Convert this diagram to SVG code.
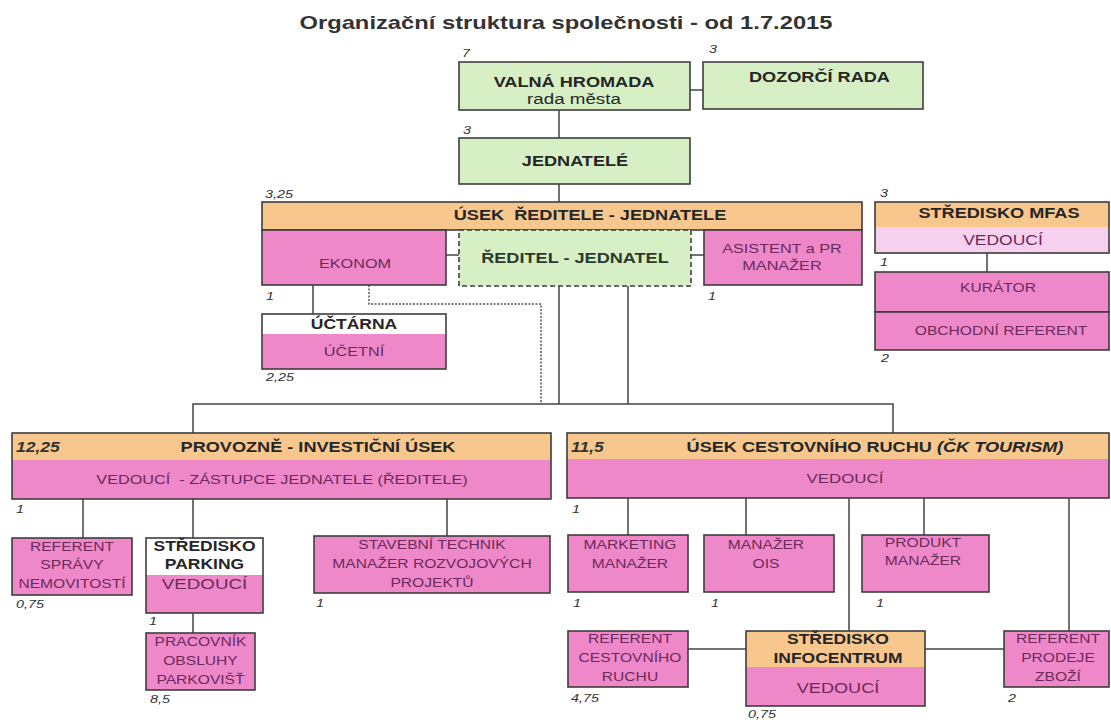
<svg xmlns="http://www.w3.org/2000/svg" width="1111" height="720" viewBox="0 0 1111 720">
<style>
.bx{stroke:#3d3d3d;stroke-width:1.6}
.g{fill:#d6efc5}.o{fill:#f8c78d}.p{fill:#ef88c8}.lp{fill:#f7d0ef}.w{fill:#ffffff}
.dash{stroke-dasharray:5 3}
.c{fill:none;stroke:#444;stroke-width:1.5}
.dot{fill:none;stroke:#555;stroke-width:1.5;stroke-dasharray:2 1.5}
text{font-family:"Liberation Sans",Arial,sans-serif;text-anchor:middle}
.h{font-weight:bold;font-size:14.5px;fill:#262626}
.hs{font-weight:bold;font-size:14px;fill:#262626}
.t{font-size:13px;fill:#6a2a5c}
.ts{font-size:12.5px;fill:#6a2a5c}
.tl{font-size:14.5px;fill:#6a2a5c}
.n{font-size:11.5px;font-style:italic;fill:#333;text-anchor:start}
.nb{font-size:14px;font-style:italic;font-weight:bold;fill:#333;text-anchor:start}
</style>
<rect width="1111" height="720" fill="#ffffff"/>
<g transform="scale(1.25 1)">
<text x="452.8" y="29" style="font-weight:bold;font-size:19px;fill:#333">Organizační struktura společnosti - od 1.7.2015</text>
</g>
<g id="connectors">
<path class="c" d="M690,90H703M559,110V138M559,184V202M446,255H459M691,255H704M313,285V314M559,286V404M628,286V404M193,433V404H893V433M987,253V272M83,499V538M193,499V538M447,499V536M193,613V633M628,498V535M746,498V535M849,498V631M924,498V535M1069,498V631M688,649H746M925,649H1004"/>
<path class="dot" d="M369,285V304H541V404"/>
</g>
<g id="valna">
<rect class="bx g" x="459" y="62" width="231" height="48"/>
<g transform="scale(1.25 1)"><text class="n" x="369.6" y="57">7</text><text class="h" x="459.2" y="87">VALNÁ HROMADA</text><text x="459.2" y="104" style="font-size:15px;fill:#262626">rada města</text></g>
</g>
<g id="dozorci">
<rect class="bx g" x="703" y="62" width="220" height="47"/>
<g transform="scale(1.25 1)"><text class="n" x="567.2" y="53">3</text><text class="h" x="655.6" y="82">DOZORČÍ RADA</text></g>
</g>
<g id="jednatele">
<rect class="bx g" x="459" y="138" width="231" height="46"/>
<g transform="scale(1.25 1)"><text class="n" x="370.4" y="134">3</text><text class="h" x="460" y="166">JEDNATELÉ</text></g>
</g>
<g id="usek-reditele">
<rect class="bx o" x="262" y="202" width="600" height="28"/>
<g transform="scale(1.25 1)"><text class="n" x="212" y="198">3,25</text><text class="h" x="472" y="220" xml:space="preserve">ÚSEK  ŘEDITELE - JEDNATELE</text></g>
</g>
<g id="ekonom">
<rect class="bx p" x="262" y="230" width="184" height="55"/>
<g transform="scale(1.25 1)"><text class="t" x="284" y="268">EKONOM</text><text class="n" x="212.8" y="300">1</text></g>
</g>
<g id="reditel">
<rect class="bx g dash" x="459" y="230" width="232" height="56"/>
<g transform="scale(1.25 1)"><text x="460" y="263" style="font-weight:bold;font-size:14.5px;fill:#2e3a2e">ŘEDITEL - JEDNATEL</text></g>
</g>
<g id="asistent">
<rect class="bx p" x="704" y="230" width="158" height="55"/>
<g transform="scale(1.25 1)"><text class="t" x="625.6" y="253">ASISTENT a PR</text><text class="t" x="625.6" y="270">MANAŽER</text><text class="n" x="566.4" y="300">1</text></g>
</g>
<g id="uctarna">
<rect class="w" x="262" y="314" width="184" height="20"/>
<rect class="p" x="262" y="334" width="184" height="35"/>
<rect class="bx" fill="none" x="262" y="314" width="184" height="55"/>
<g transform="scale(1.25 1)"><text class="hs" x="283.2" y="329">ÚČTÁRNA</text><text class="t" x="283.2" y="356">ÚČETNÍ</text><text class="n" x="212.8" y="381">2,25</text></g>
</g>
<g id="mfas">
<rect class="o" x="875" y="202" width="234" height="25"/>
<rect class="lp" x="875" y="227" width="234" height="26"/>
<rect class="bx" fill="none" x="875" y="202" width="234" height="51"/>
<g transform="scale(1.25 1)"><text class="n" x="704" y="197">3</text><text class="h" x="799.2" y="218">STŘEDISKO MFAS</text><text x="802.4" y="245" style="font-size:14px;fill:#6a2a5c">VEDOUCÍ</text><text class="n" x="704" y="266">1</text></g>
</g>
<g id="kurator">
<rect class="bx p" x="875" y="272" width="234" height="40"/>
<rect class="bx p" x="875" y="312" width="234" height="38"/>
<g transform="scale(1.25 1)"><text class="ts" x="798.4" y="292">KURÁTOR</text><text class="ts" x="800.8" y="335">OBCHODNÍ REFERENT</text><text class="n" x="704.8" y="362">2</text></g>
</g>
<g id="provozne">
<rect class="o" x="12" y="433" width="539" height="27"/>
<rect class="p" x="12" y="460" width="539" height="39"/>
<rect class="bx" fill="none" x="12" y="433" width="539" height="66"/>
<g transform="scale(1.25 1)"><text class="nb" x="12.8" y="452">12,25</text><text class="h" x="254.4" y="452">PROVOZNĚ - INVESTIČNÍ ÚSEK</text><text class="t" x="225.6" y="484" xml:space="preserve">VEDOUCÍ  - ZÁSTUPCE JEDNATELE (ŘEDITELE)</text><text class="n" x="12.8" y="513">1</text></g>
</g>
<g id="cestovni-ruch">
<rect class="o" x="567" y="433" width="542" height="26"/>
<rect class="p" x="567" y="459" width="542" height="39"/>
<rect class="bx" fill="none" x="567" y="433" width="542" height="65"/>
<g transform="scale(1.25 1)"><text class="nb" x="456.8" y="452">11,5</text><text class="h" x="700" y="452">ÚSEK CESTOVNÍHO RUCHU <tspan font-style="italic">(ČK TOURISM)</tspan></text><text x="676" y="483" style="font-size:13.5px;fill:#6a2a5c">VEDOUCÍ</text><text class="n" x="457.6" y="513">1</text></g>
</g>
<g id="referent-spravy">
<rect class="bx p" x="12" y="538" width="120" height="57"/>
<g transform="scale(1.25 1)"><text class="ts" x="57.6" y="551">REFERENT</text><text class="ts" x="57.6" y="569">SPRÁVY</text><text class="ts" x="57.6" y="588">NEMOVITOSTÍ</text><text class="n" x="12.8" y="608">0,75</text></g>
</g>
<g id="parking">
<rect class="w" x="146" y="538" width="117" height="37"/>
<rect class="p" x="146" y="575" width="117" height="38"/>
<rect class="bx" fill="none" x="146" y="538" width="117" height="75"/>
<g transform="scale(1.25 1)"><text class="hs" x="163.6" y="551">STŘEDISKO</text><text class="hs" x="163.6" y="569">PARKING</text><text x="163.6" y="589" style="font-size:15px;fill:#6a2a5c">VEDOUCÍ</text><text class="n" x="119.2" y="625">1</text></g>
</g>
<g id="pracovnik">
<rect class="bx p" x="146" y="633" width="109" height="57"/>
<g transform="scale(1.25 1)"><text class="ts" x="160.4" y="646">PRACOVNÍK</text><text class="ts" x="160.4" y="665">OBSLUHY</text><text class="ts" x="160.4" y="684">PARKOVIŠŤ</text><text class="n" x="120" y="703">8,5</text></g>
</g>
<g id="stavebni">
<rect class="bx p" x="314" y="536" width="236" height="57"/>
<g transform="scale(1.25 1)"><text class="ts" x="345.6" y="549">STAVEBNÍ TECHNIK</text><text class="ts" x="345.6" y="568">MANAŽER ROZVOJOVÝCH</text><text class="ts" x="345.6" y="587">PROJEKTŮ</text><text class="n" x="252.8" y="607">1</text></g>
</g>
<g id="marketing">
<rect class="bx p" x="568" y="535" width="120" height="57"/>
<g transform="scale(1.25 1)"><text class="ts" x="504" y="549">MARKETING</text><text class="ts" x="504" y="568">MANAŽER</text><text class="n" x="458.4" y="607">1</text></g>
</g>
<g id="ois">
<rect class="bx p" x="704" y="535" width="130" height="57"/>
<g transform="scale(1.25 1)"><text class="ts" x="612.8" y="549">MANAŽER</text><text class="ts" x="612.8" y="568">OIS</text><text class="n" x="568.8" y="607">1</text></g>
</g>
<g id="produkt">
<rect class="bx p" x="862" y="535" width="127" height="57"/>
<g transform="scale(1.25 1)"><text class="ts" x="738.4" y="547">PRODUKT</text><text class="ts" x="738.4" y="565">MANAŽER</text><text class="n" x="700.8" y="607">1</text></g>
</g>
<g id="referent-cr">
<rect class="bx p" x="568" y="631" width="120" height="56"/>
<g transform="scale(1.25 1)"><text class="ts" x="504" y="643">REFERENT</text><text class="ts" x="504" y="662">CESTOVNÍHO</text><text class="ts" x="504" y="681">RUCHU</text><text class="n" x="456.8" y="702">4,75</text></g>
</g>
<g id="infocentrum">
<rect class="o" x="746" y="631" width="179" height="36"/>
<rect class="p" x="746" y="667" width="179" height="39"/>
<rect class="bx" fill="none" x="746" y="631" width="179" height="75"/>
<g transform="scale(1.25 1)"><text class="hs" x="670.4" y="644">STŘEDISKO</text><text class="hs" x="670.4" y="663">INFOCENTRUM</text><text class="tl" x="670.4" y="693">VEDOUCÍ</text><text class="n" x="598.4" y="718">0,75</text></g>
</g>
<g id="referent-prodeje">
<rect class="bx p" x="1004" y="631" width="105" height="56"/>
<g transform="scale(1.25 1)"><text class="ts" x="846.4" y="643">REFERENT</text><text class="ts" x="846.4" y="662">PRODEJE</text><text class="ts" x="846.4" y="681">ZBOŽÍ</text><text class="n" x="806.4" y="702">2</text></g>
</g>
</svg>
